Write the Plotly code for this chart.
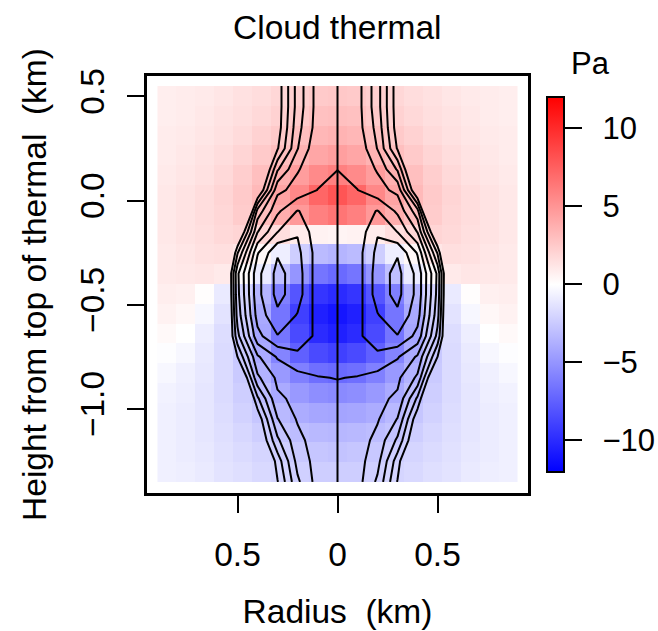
import numpy as np
import plotly.graph_objects as go

# Grid nodes (km): radius from the axis outward, height from the thermal top downward
radius_km = [0.0, 0.1, 0.2, 0.3, 0.4, 0.5, 0.6, 0.7, 0.8, 0.9]
height_km = [0.55, 0.45, 0.35, 0.25, 0.15, 0.05, -0.05, -0.15, -0.25, -0.35,
             -0.45, -0.55, -0.65, -0.75, -0.85, -0.95, -1.05, -1.15, -1.25, -1.35]

# Pressure perturbation (Pa), one row per height, columns follow radius_km
pressure_pa = [
    [2.6, 2.5, 2.2, 1.9, 1.6, 1.4, 1.2, 1.0, 0.9, 0.8],
    [3.0, 2.9, 2.5, 2.1, 1.8, 1.5, 1.3, 1.1, 0.9, 0.8],
    [3.6, 3.4, 3.0, 2.5, 2.1, 1.7, 1.4, 1.2, 1.0, 0.9],
    [4.5, 4.2, 3.6, 3.0, 2.5, 2.0, 1.6, 1.3, 1.1, 0.9],
    [6.0, 5.5, 4.6, 3.7, 3.0, 2.3, 1.8, 1.4, 1.2, 1.0],
    [8.0, 7.2, 5.6, 4.3, 3.3, 2.5, 2.0, 1.6, 1.3, 1.1],
    [6.5, 6.0, 4.8, 3.8, 3.0, 2.4, 1.9, 1.6, 1.3, 1.1],
    [0.5, 0.6, 0.9, 1.5, 1.9, 2.0, 1.8, 1.5, 1.3, 1.1],
    [-3.5, -3.2, -2.3, -0.8, 0.4, 1.2, 1.5, 1.4, 1.2, 1.0],
    [-7.0, -6.5, -5.0, -3.0, -1.0, 0.2, 1.0, 1.2, 1.1, 1.0],
    [-10.0, -9.5, -8.0, -6.0, -3.5, -2.0, -1.0, 0.1, 0.7, 0.8],
    [-11.0, -10.5, -9.0, -6.5, -4.0, -2.3, -1.3, -0.4, 0.4, 0.6],
    [-10.5, -10.0, -8.5, -6.5, -4.2, -2.6, -1.6, -0.8, 0.0, 0.3],
    [-9.0, -8.5, -7.5, -5.8, -4.0, -2.6, -1.7, -1.0, -0.4, -0.1],
    [-7.0, -6.8, -6.0, -4.8, -3.6, -2.5, -1.7, -1.1, -0.7, -0.4],
    [-5.5, -5.3, -4.8, -4.0, -3.1, -2.3, -1.7, -1.2, -0.8, -0.6],
    [-4.3, -4.2, -3.9, -3.3, -2.7, -2.1, -1.6, -1.2, -0.9, -0.7],
    [-3.4, -3.3, -3.1, -2.8, -2.3, -1.9, -1.5, -1.2, -0.9, -0.7],
    [-2.8, -2.7, -2.6, -2.3, -2.0, -1.7, -1.4, -1.1, -0.9, -0.7],
    [-2.3, -2.3, -2.2, -2.0, -1.8, -1.5, -1.3, -1.0, -0.8, -0.7],
]

# Stream function in the thermal's frame (arbitrary units), same grid
stream_fn = [
    [-0.3, -0.6, -2.6, -5.6, -10.0, -16.0, -23.0, -31.0, -40.0, -50.0],
    [-0.3, -0.6, -2.6, -5.6, -10.0, -16.0, -23.0, -31.0, -40.0, -50.0],
    [-0.3, -0.55, -2.36, -5.54, -9.5, -15.0, -22.0, -30.0, -39.0, -49.0],
    [-0.1, -0.18, -2.05, -5.1, -9.0, -14.0, -21.0, -29.0, -38.0, -48.0],
    [-0.02, -0.4, -1.08, -3.12, -8.0, -13.0, -20.0, -28.0, -37.0, -47.0],
    [0.4, 0.02, -0.67, -1.24, -6.5, -12.0, -19.0, -27.0, -36.0, -46.0],
    [0.6, 0.5, 1.05, -0.2, -2.62, -12.0, -18.0, -26.0, -35.0, -45.0],
    [0.4, 0.35, 1.9, 0.98, -1.05, -7.0, -15.0, -24.0, -33.0, -43.0],
    [0.5, 0.57, 2.29, 2.9, 0.9, -4.1, -12.0, -21.0, -30.0, -40.0],
    [0.5, 0.5, 2.5, 3.31, 1.7, -2.2, -11.0, -20.0, -29.0, -39.0],
    [0.5, 0.5, 2.5, 3.3, 1.7, -2.3, -11.0, -20.0, -29.0, -39.0],
    [0.55, 0.69, 1.93, 2.8, 1.4, -2.6, -11.0, -20.0, -29.0, -39.0],
    [0.6, 0.8, 1.6, 1.95, 0.68, -3.32, -10.0, -19.0, -28.0, -38.0],
    [0.4, 0.6, 0.75, 0.1, -1.15, -5.0, -10.0, -18.0, -27.0, -37.0],
    [0.03, -0.05, -0.35, -0.8, -2.2, -7.5, -13.0, -20.0, -28.0, -38.0],
    [-0.3, -0.4, -0.8, -1.15, -4.2, -9.0, -15.0, -22.0, -30.0, -40.0],
    [-0.3, -0.5, -0.91, -2.06, -5.8, -11.0, -17.0, -24.0, -32.0, -42.0],
    [-0.3, -0.5, -1.3, -3.2, -6.5, -12.0, -18.0, -25.0, -33.0, -43.0],
    [-0.3, -0.6, -1.65, -4.55, -8.0, -13.0, -20.0, -27.0, -35.0, -45.0],
    [-0.3, -0.6, -2.2, -5.06, -8.5, -14.0, -21.0, -28.0, -36.0, -46.0],
]
stream_levels = (-5, 3, 1)

x_tick_vals = [-0.5, 0.0, 0.5]
x_tick_text = ["0.5", "0", "0.5"]
y_tick_vals = [0.5, 0.0, -0.5, -1.0]
y_tick_text = ["0.5", "0.0", "\u22120.5", "\u22121.0"]
cb_tick_vals = [-10, -5, 0, 5, 10]
cb_tick_text = [" \u2009\u221210", " \u2009\u22125", " \u20090", " \u20095", " \u200910"]


def mirror(rows):
    """Reflect an axisymmetric half-field about r = 0."""
    return [list(row[:0:-1]) + list(row) for row in rows]


r_full = [-r for r in radius_km[:0:-1]] + radius_km
z_up = height_km[::-1]
p_full = mirror(pressure_pa)[::-1]
s_full = mirror(stream_fn)[::-1]

# Raster cells span the node range
x_edges = np.linspace(r_full[0], r_full[-1], len(r_full) + 1)
y_edges = np.linspace(z_up[0], z_up[-1], len(z_up) + 1)

FONT = "Liberation Sans, Arial, Helvetica, sans-serif"
FS = 33.5
FS_CB = 31

fig = go.Figure()

fig.add_trace(go.Heatmap(
    x=x_edges, y=y_edges, z=p_full,
    zmin=-12, zmax=12,
    colorscale=[[0.0, "rgb(0,0,255)"], [0.5, "rgb(255,255,255)"], [1.0, "rgb(255,0,0)"]],
    zsmooth=False,
    hoverinfo="skip",
    colorbar=dict(
        x=(547 - 147) / 381, xanchor="left", xpad=0,
        y=0.5007, yanchor="middle", ypad=0,
        len=375, lenmode="pixels",
        thickness=17, thicknessmode="pixels",
        outlinewidth=2, outlinecolor="black",
        tickmode="array", tickvals=cb_tick_vals, ticktext=cb_tick_text,
        ticks="outside", ticklen=17, tickwidth=2, tickcolor="black",
        tickfont=dict(family=FONT, size=FS_CB, color="black"),
    ),
))

fig.add_trace(go.Contour(
    x=r_full, y=z_up, z=s_full,
    autocontour=False,
    contours=dict(start=stream_levels[0], end=stream_levels[1], size=stream_levels[2],
                  coloring="none"),
    line=dict(color="black", width=2, smoothing=0),
    showscale=False,
    hoverinfo="skip",
))

# Symmetry axis
fig.add_shape(type="line", x0=0, x1=0, y0=z_up[0], y1=z_up[-1],
              line=dict(color="black", width=2), layer="above")

fig.update_layout(
    width=658, height=631,
    margin=dict(l=147, r=130, t=76, b=138, autoexpand=False),
    paper_bgcolor="white", plot_bgcolor="white",
    showlegend=False,
    font=dict(family=FONT, size=FS, color="black"),
    annotations=[
        dict(text="Cloud thermal", xref="paper", yref="paper",
             x=0.5, y=1.0, xanchor="center", yanchor="bottom", yshift=28,
             showarrow=False, font=dict(family=FONT, size=FS, color="black")),
        dict(text="Pa", xref="paper", yref="paper",
             x=(590 - 147) / 381, y=(493 - 64) / 417, xanchor="center", yanchor="middle",
             showarrow=False, font=dict(family=FONT, size=FS_CB, color="black")),
    ],
)

fig.update_xaxes(
    range=[-0.9525, 0.9525], showgrid=False, zeroline=False,
    showline=True, mirror=True, linecolor="black", linewidth=2.5,
    tickmode="array", tickvals=x_tick_vals, ticktext=x_tick_text,
    ticks="outside", ticklen=17, tickwidth=2, tickcolor="black",
    ticklabelstandoff=13,
    tickfont=dict(family=FONT, size=FS, color="black"),
    title=dict(text="Radius  (km)", standoff=28,
               font=dict(family=FONT, size=FS, color="black")),
)
fig.update_yaxes(
    range=[-1.403, 0.598], showgrid=False, zeroline=False,
    showline=True, mirror=True, linecolor="black", linewidth=2.5,
    tickmode="array", tickvals=y_tick_vals, ticktext=y_tick_text,
    ticks="outside", ticklen=17, tickwidth=2, tickcolor="black",
    tickangle=-90, ticklabelstandoff=10,
    tickfont=dict(family=FONT, size=FS, color="black"),
    title=dict(text="Height from top of thermal  (km)", standoff=18,
               font=dict(family=FONT, size=FS, color="black")),
)

fig.write_html("out.html")
